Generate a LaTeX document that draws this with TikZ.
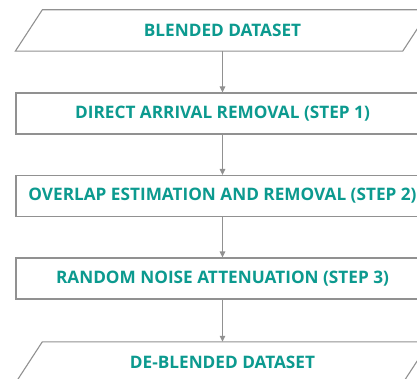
\documentclass[tikz,border=0pt]{standalone}
\usepackage{fontspec}
\setmainfont{Open Sans}
\usetikzlibrary{arrows.meta}
\definecolor{flowline}{RGB}{145,145,145}
\definecolor{flowtext}{RGB}{12,154,143}
\begin{document}
\begin{tikzpicture}[x=1pt,y=-1pt,
  labelfont/.style={font=\fontsize{17.2}{20}\selectfont\bfseries,text=flowtext},
  stepbox/.style={draw=flowline,line width=1.1pt,fill=white,minimum width=413pt,minimum height=41pt,inner sep=0pt,labelfont},
  databox/.style={minimum width=360pt,minimum height=41pt,inner sep=0pt,labelfont},
  dataedge/.style={draw=flowline,line width=1.1pt,fill=white},
  flow/.style={draw=flowline,line width=1.1pt,-{Triangle[length=6pt,width=5.5pt]}}]
\useasboundingbox (0,0) rectangle (417,379);
% input and output data sets (parallelograms)
\node[databox] (blend) at (222.5,30.5) {};
\path[dataedge] ([xshift=-27pt]blend.south west) -- (blend.south east)
  -- ([xshift=27pt]blend.north east) -- (blend.north west) -- cycle;
\node[databox] at (blend.center) {BLENDED DATASET};
\node[databox] (deblend) at (222.5,362.5) {};
\path[dataedge] ([xshift=-27pt]deblend.south west) -- (deblend.south east)
  -- ([xshift=27pt]deblend.north east) -- (deblend.north west) -- cycle;
\node[databox] at (deblend.center) {DE-BLENDED DATASET};
% processing steps
\node[stepbox] (s1) at (222.5,113.5) {DIRECT ARRIVAL REMOVAL (STEP 1)};
\node[stepbox] (s2) at (222.5,196) {OVERLAP ESTIMATION AND REMOVAL (STEP 2)};
\node[stepbox] (s3) at (222.5,278.5) {RANDOM NOISE ATTENUATION (STEP 3)};
% connectors
\draw[flow] (blend.south) -- (s1.north);
\draw[flow] (s1.south) -- (s2.north);
\draw[flow] (s2.south) -- (s3.north);
\draw[flow] (s3.south) -- (deblend.north);
\end{tikzpicture}
\end{document}
